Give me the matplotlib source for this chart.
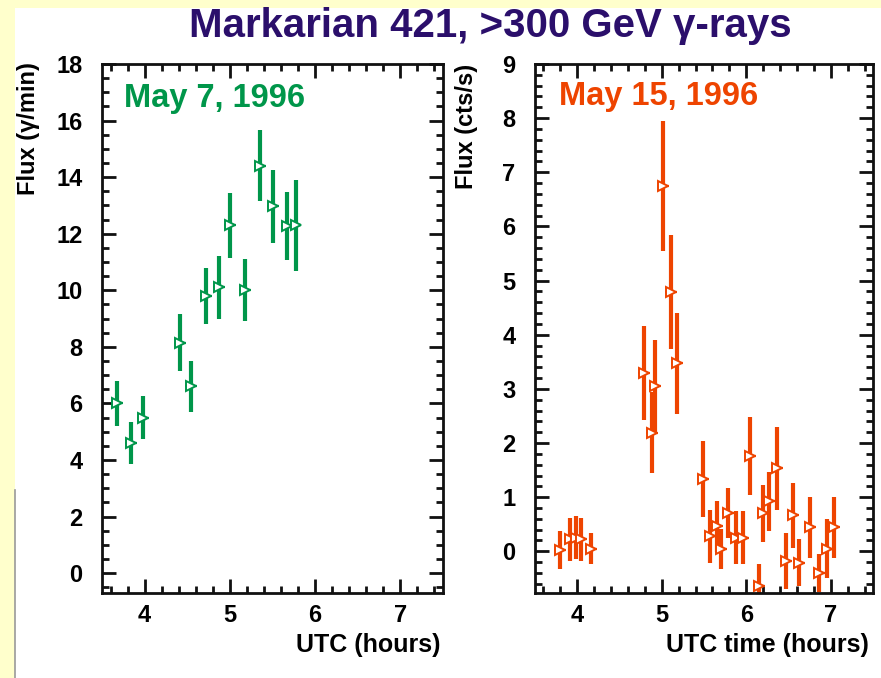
import matplotlib
matplotlib.use("Agg")
import matplotlib.pyplot as plt
from matplotlib.patches import Rectangle
from matplotlib.lines import Line2D
from matplotlib.ticker import MultipleLocator
from matplotlib import font_manager

# ---------------- data ----------------
may7_time = [3.68, 3.84, 3.98, 4.41, 4.54, 4.72, 4.87, 5.00, 5.18, 5.35, 5.51, 5.67, 5.77]
may7_flux = [6.0, 4.6, 5.5, 8.15, 6.6, 9.8, 10.1, 12.3, 10.0, 14.4, 12.97, 12.27, 12.3]
may7_err = [0.8, 0.75, 0.75, 1.0, 0.9, 1.0, 1.1, 1.15, 1.1, 1.25, 1.3, 1.2, 1.6]

may15_time = [3.80, 3.92, 3.99, 4.05, 4.16,
              4.79, 4.88, 4.92, 5.02, 5.11, 5.18,
              5.49, 5.57, 5.65, 5.70, 5.78, 5.88, 5.96, 6.05, 6.15, 6.20,
              6.27, 6.36, 6.47, 6.55, 6.63, 6.75, 6.86, 6.95, 7.04]
may15_flux = [0.03, 0.22, 0.25, 0.22, 0.05,
              3.29, 2.19, 3.06, 6.74, 4.79, 3.47,
              1.33, 0.28, 0.46, 0.04, 0.70, 0.25, 0.25, 1.76, -0.64, 0.70,
              0.92, 1.53, -0.18, 0.67, -0.21, 0.44, -0.40, 0.05, 0.44]
may15_err = [0.35, 0.40, 0.40, 0.40, 0.28,
             0.87, 0.75, 0.85, 1.20, 1.05, 0.93,
             0.70, 0.49, 0.47, 0.37, 0.46, 0.49, 0.49, 0.72, 0.40, 0.52,
             0.55, 0.76, 0.52, 0.60, 0.43, 0.56, 0.35, 0.55, 0.56]

left_yticks = [0, 2, 4, 6, 8, 10, 12, 14, 16, 18]
right_yticks = [0, 1, 2, 3, 4, 5, 6, 7, 8, 9]
xticks = [4, 5, 6, 7]

title = "Markarian 421, >300 GeV γ-rays"
left_note = "May 7, 1996"
right_note = "May 15, 1996"
left_ylabel = "Flux (γ/min)"
right_ylabel = "Flux (cts/s)"
left_xlabel = "UTC (hours)"
right_xlabel = "UTC time (hours)"

# ---------------- style ----------------
names = {f.name for f in font_manager.fontManager.ttflist}
main_font = "Liberation Sans" if "Liberation Sans" in names else "DejaVu Sans"
plt.rcParams['font.family'] = [main_font, 'DejaVu Sans']
plt.rcParams['font.weight'] = 'bold'

GREEN = '#00964A'
ORANGE = '#EE4400'
PURPLE = '#2B0F6B'
YELLOW = '#FFFFCC'

W, H = 881, 678
fig = plt.figure(figsize=(W / 100, H / 100), dpi=100)
fig.patch.set_facecolor('white')


def fx(x):
    return x / W


def fy(y):
    return 1 - y / H


# background bands
fig.patches.append(Rectangle((0, fy(8)), 1, 8 / H, transform=fig.transFigure,
                             facecolor=YELLOW, edgecolor='none', zorder=-10))
fig.patches.append(Rectangle((0, 0), fx(15), 1, transform=fig.transFigure,
                             facecolor=YELLOW, edgecolor='none', zorder=-10))
fig.lines.append(Line2D([fx(15), fx(15)], [0, fy(490)], transform=fig.transFigure,
                        color='#999999', lw=1.2))


def px_rect(x0, y0, x1, y1):
    return [x0 / W, 1 - y1 / H, (x1 - x0) / W, (y1 - y0) / H]


axL = fig.add_axes(px_rect(102, 64, 443, 593))
axR = fig.add_axes(px_rect(535, 64, 873, 593))


def style_axis(ax, ylim, yticks, ymin):
    ax.set_xlim(3.5, 7.5)
    ax.set_ylim(*ylim)
    ax.set_xticks(xticks)
    ax.set_xticklabels([str(t) for t in xticks])
    ax.set_yticks(yticks)
    ax.set_yticklabels([str(t) for t in yticks])
    ax.xaxis.set_minor_locator(MultipleLocator(0.2))
    ax.yaxis.set_minor_locator(MultipleLocator(ymin))
    ax.tick_params(which='both', direction='in', top=True, right=True,
                   width=2, color='#111111')
    ax.tick_params(which='major', length=10)
    ax.tick_params(which='minor', length=5)
    ax.tick_params(axis='y', which='major', pad=14, labelsize=17)
    ax.tick_params(axis='x', which='major', pad=8, labelsize=17)
    for lab in ax.get_xticklabels() + ax.get_yticklabels():
        lab.set_fontweight('bold')
    for s in ax.spines.values():
        s.set_linewidth(2)
        s.set_color('#111111')


style_axis(axL, (-0.7, 18.0), left_yticks, 0.5)
style_axis(axR, (-0.77, 9.0), right_yticks, 0.2)


def draw(ax, t, f, e, color):
    ax.errorbar(t, f, yerr=e, fmt='none', ecolor=color, elinewidth=3.0, capsize=0)
    ax.errorbar(t, f, xerr=0.07, fmt='none', ecolor=color, elinewidth=1.6, capsize=0)
    ax.plot(t, f, linestyle='none', marker='>', ms=7, mfc='white', mec=color, mew=1.4)


draw(axL, may7_time, may7_flux, may7_err, GREEN)
draw(axR, may15_time, may15_flux, may15_err, ORANGE)

fig.text(fx(124), fy(98), left_note, color=GREEN, fontsize=23.5,
         fontweight='bold', va='center', ha='left')
fig.text(fx(559), fy(97), right_note, color=ORANGE, fontsize=23.5,
         fontweight='bold', va='center', ha='left')

fig.text(fx(490), fy(26), title, color=PURPLE, fontsize=29, fontweight='bold',
         ha='center', va='center')
fig.text(fx(28), fy(62), left_ylabel, rotation=90, fontsize=17, fontweight='bold',
         ha='center', va='top')
fig.text(fx(466), fy(64), right_ylabel, rotation=90, fontsize=17, fontweight='bold',
         ha='center', va='top')
fig.text(fx(441), fy(645), left_xlabel, fontsize=18, fontweight='bold',
         ha='right', va='center')
fig.text(fx(869), fy(645), right_xlabel, fontsize=18, fontweight='bold',
         ha='right', va='center')

fig.savefig('out.png', dpi=100)
